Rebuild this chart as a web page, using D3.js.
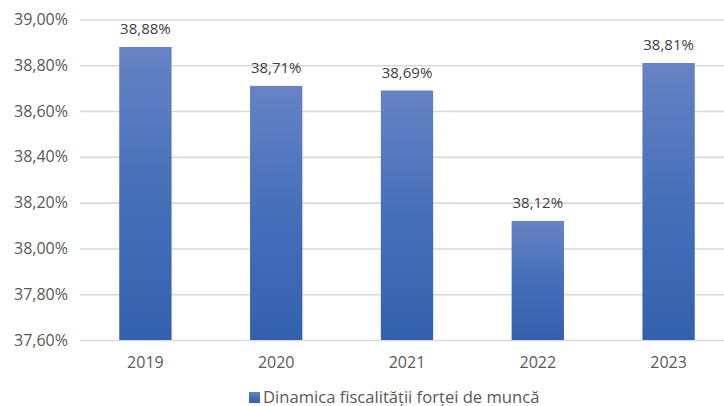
<!DOCTYPE html>
<html>
<head>
<meta charset="utf-8">
<script src="https://cdn.jsdelivr.net/npm/d3@7/dist/d3.min.js"></script>
<style>
  html, body { margin: 0; padding: 0; background: #ffffff; }
  svg { display: block; font-family: "Open Sans", sans-serif; }
</style>
</head>
<body>
<svg id="chart"></svg>
<script>
const years = ["2019", "2020", "2021", "2022", "2023"];
const values = [38.88, 38.71, 38.69, 38.12, 38.81];
const yTicks = [37.6, 37.8, 38.0, 38.2, 38.4, 38.6, 38.8, 39.0];
const seriesName = "Dinamica fiscalității forței de muncă";

const width = 724;
const height = 406;

const roLocale = d3.formatLocale({
  decimal: ",",
  thousands: ".",
  grouping: [3],
  currency: ["", " lei"]
});
const fmt = v => roLocale.format(".2f")(v) + "%";

const svg = d3.select("#chart")
  .attr("width", width)
  .attr("height", height);

// bar gradient, light on top, darker at the bottom
const defs = svg.append("defs");
const grad = defs.append("linearGradient")
  .attr("id", "barGrad")
  .attr("x1", 0).attr("y1", 0)
  .attr("x2", 0).attr("y2", 1);
grad.append("stop").attr("offset", "0%").attr("stop-color", "#6683c5");
grad.append("stop").attr("offset", "50%").attr("stop-color", "#456fb9");
grad.append("stop").attr("offset", "100%").attr("stop-color", "#3461ae");

const x = d3.scaleBand()
  .domain(years)
  .range([80, 734])
  .paddingInner(0.6)
  .paddingOuter(0.3);

const y = d3.scaleLinear()
  .domain([37.6, 39.0])
  .range([340, 19.5]);

// gridlines + y labels
const yAxis = svg.append("g")
  .attr("transform", "translate(80,0)")
  .call(d3.axisLeft(y)
    .tickValues(yTicks)
    .tickSize(-(width - 80))
    .tickPadding(12)
    .tickFormat(fmt));

yAxis.select(".domain").remove();
yAxis.selectAll(".tick line")
  .attr("stroke", "#d9d9d9")
  .attr("stroke-width", 1.6);
yAxis.selectAll(".tick text")
  .attr("fill", "#595959")
  .attr("font-size", 16)
  .attr("font-family", "Open Sans, sans-serif");

// bars
svg.selectAll("rect.bar")
  .data(values)
  .enter()
  .append("rect")
  .attr("class", "bar")
  .attr("x", (d, i) => x(years[i]))
  .attr("y", d => y(d))
  .attr("width", x.bandwidth())
  .attr("height", d => y(37.6) - y(d))
  .attr("fill", "url(#barGrad)");

// value labels
svg.selectAll("text.value")
  .data(values)
  .enter()
  .append("text")
  .attr("class", "value")
  .attr("x", (d, i) => x(years[i]) + x.bandwidth() / 2)
  .attr("y", d => y(d) - 12.5)
  .attr("text-anchor", "middle")
  .attr("fill", "#404040")
  .attr("font-size", 15)
  .text(d => fmt(d));

// x axis
const xAxis = svg.append("g")
  .attr("transform", "translate(0,340)")
  .call(d3.axisBottom(x).tickSize(0).tickPadding(17));

xAxis.select(".domain").remove();
xAxis.selectAll(".tick text")
  .attr("fill", "#595959")
  .attr("font-size", 16)
  .attr("font-family", "Open Sans, sans-serif");

// legend
const legend = svg.append("g").attr("transform", "translate(249,392)");
legend.append("rect")
  .attr("width", 11)
  .attr("height", 11)
  .attr("fill", "url(#barGrad)");
legend.append("text")
  .attr("x", 14)
  .attr("y", 10.5)
  .attr("fill", "#595959")
  .attr("font-size", 16.6)
  .text(seriesName);
</script>
</body>
</html>
